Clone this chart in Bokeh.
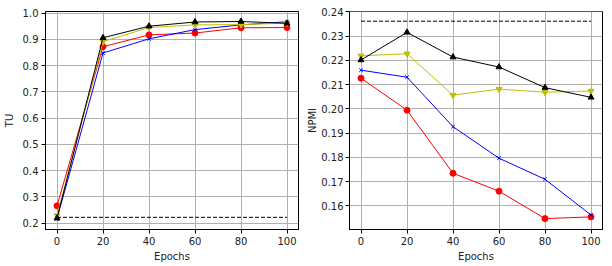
from bokeh.plotting import figure
from bokeh.layouts import row
from bokeh.models import FixedTicker, PrintfTickFormatter, Range1d
from bokeh.embed import file_html
from bokeh.resources import INLINE

epochs = [0, 20, 40, 60, 80, 100]

tu_red = [0.266, 0.872, 0.917, 0.924, 0.944, 0.945]
tu_blue = [0.217, 0.848, 0.902, 0.937, 0.955, 0.967]
tu_yellow = [0.229, 0.891, 0.945, 0.955, 0.956, 0.962]
tu_black = [0.219, 0.906, 0.950, 0.966, 0.968, 0.961]
tu_baseline = 0.2224

npmi_red = [0.2127, 0.1995, 0.1735, 0.1661, 0.1548, 0.1555]
npmi_blue = [0.2160, 0.2131, 0.1927, 0.1797, 0.1710, 0.1563]
npmi_yellow = [0.2219, 0.2228, 0.2057, 0.2082, 0.2069, 0.2074]
npmi_black = [0.2202, 0.2316, 0.2214, 0.2173, 0.2088, 0.2048]
npmi_baseline = 0.2362

tu_ticks = [0.2, 0.3, 0.4, 0.5, 0.6, 0.7, 0.8, 0.9, 1.0]
npmi_ticks = [0.16, 0.17, 0.18, 0.19, 0.20, 0.21, 0.22, 0.23, 0.24]

FONT = "DejaVu Sans"
YEL = "#bfbf00"


def make_fig(width, height, yr, yticks, yfmt, ylabel, border_left, border_right,
             label_standoff, tick_standoff):
    p = figure(width=width, height=height, output_backend="svg", toolbar_location=None,
               x_range=Range1d(-5, 105), y_range=Range1d(*yr),
               min_border_left=border_left, min_border_right=border_right,
               min_border_top=11, min_border_bottom=37)
    p.outline_line_color = "black"
    p.outline_line_width = 1
    p.outline_line_alpha = 1
    p.background_fill_color = "white"
    p.border_fill_color = "white"
    p.xaxis.ticker = FixedTicker(ticks=epochs)
    p.yaxis.ticker = FixedTicker(ticks=yticks)
    p.yaxis.formatter = PrintfTickFormatter(format=yfmt)
    p.xaxis.axis_label = "Epochs"
    p.yaxis.axis_label = ylabel
    for ax in (p.xaxis, p.yaxis):
        ax.axis_line_color = "black"
        ax.major_tick_line_color = "black"
        ax.major_tick_out = 4
        ax.major_tick_in = 0
        ax.minor_tick_line_color = None
        ax.major_label_text_font = FONT
        ax.major_label_text_font_size = "10px"
        ax.major_label_text_color = "#222222"
        ax.major_label_standoff = 3
        ax.axis_label_text_font = FONT
        ax.axis_label_text_font_size = "10px"
        ax.axis_label_text_font_style = "normal"
        ax.axis_label_text_color = "#222222"
        ax.axis_label_standoff = 3
    p.yaxis.axis_label_standoff = label_standoff
    p.yaxis.major_label_standoff = tick_standoff
    p.grid.grid_line_color = "#b0b0b0"
    p.grid.grid_line_width = 1
    return p


def add_series(p, red, blue, yellow, black, base):
    p.line(epochs, red, line_color="red", line_width=1)
    p.scatter(epochs, red, marker="circle", size=6, color="red")
    p.line(epochs, blue, line_color="blue", line_width=1)
    p.scatter(epochs, blue, marker="x", size=5, line_color="blue", line_width=1)
    p.line(epochs, yellow, line_color=YEL, line_width=1)
    p.scatter(epochs, yellow, marker="inverted_triangle", size=6, color=YEL)
    p.line(epochs, black, line_color="black", line_width=1)
    p.scatter(epochs, black, marker="triangle", size=6, color="black")
    p.line([epochs[0], epochs[-1]], [base, base], line_color="black", line_width=1, line_dash="4 2")


p1 = make_fig(304, 266, (0.176, 1.006), tu_ticks, "%.1f", "TU", 44, 6, 5, 3)
add_series(p1, tu_red, tu_blue, tu_yellow, tu_black, tu_baseline)

p2 = make_fig(302, 266, (0.1503, 0.2402), npmi_ticks, "%.2f", "NPMI", 44, 4, 0, 2)
add_series(p2, npmi_red, npmi_blue, npmi_yellow, npmi_black, npmi_baseline)

layout = row(p1, p2)
open("out.html", "w").write(file_html(layout, INLINE))
